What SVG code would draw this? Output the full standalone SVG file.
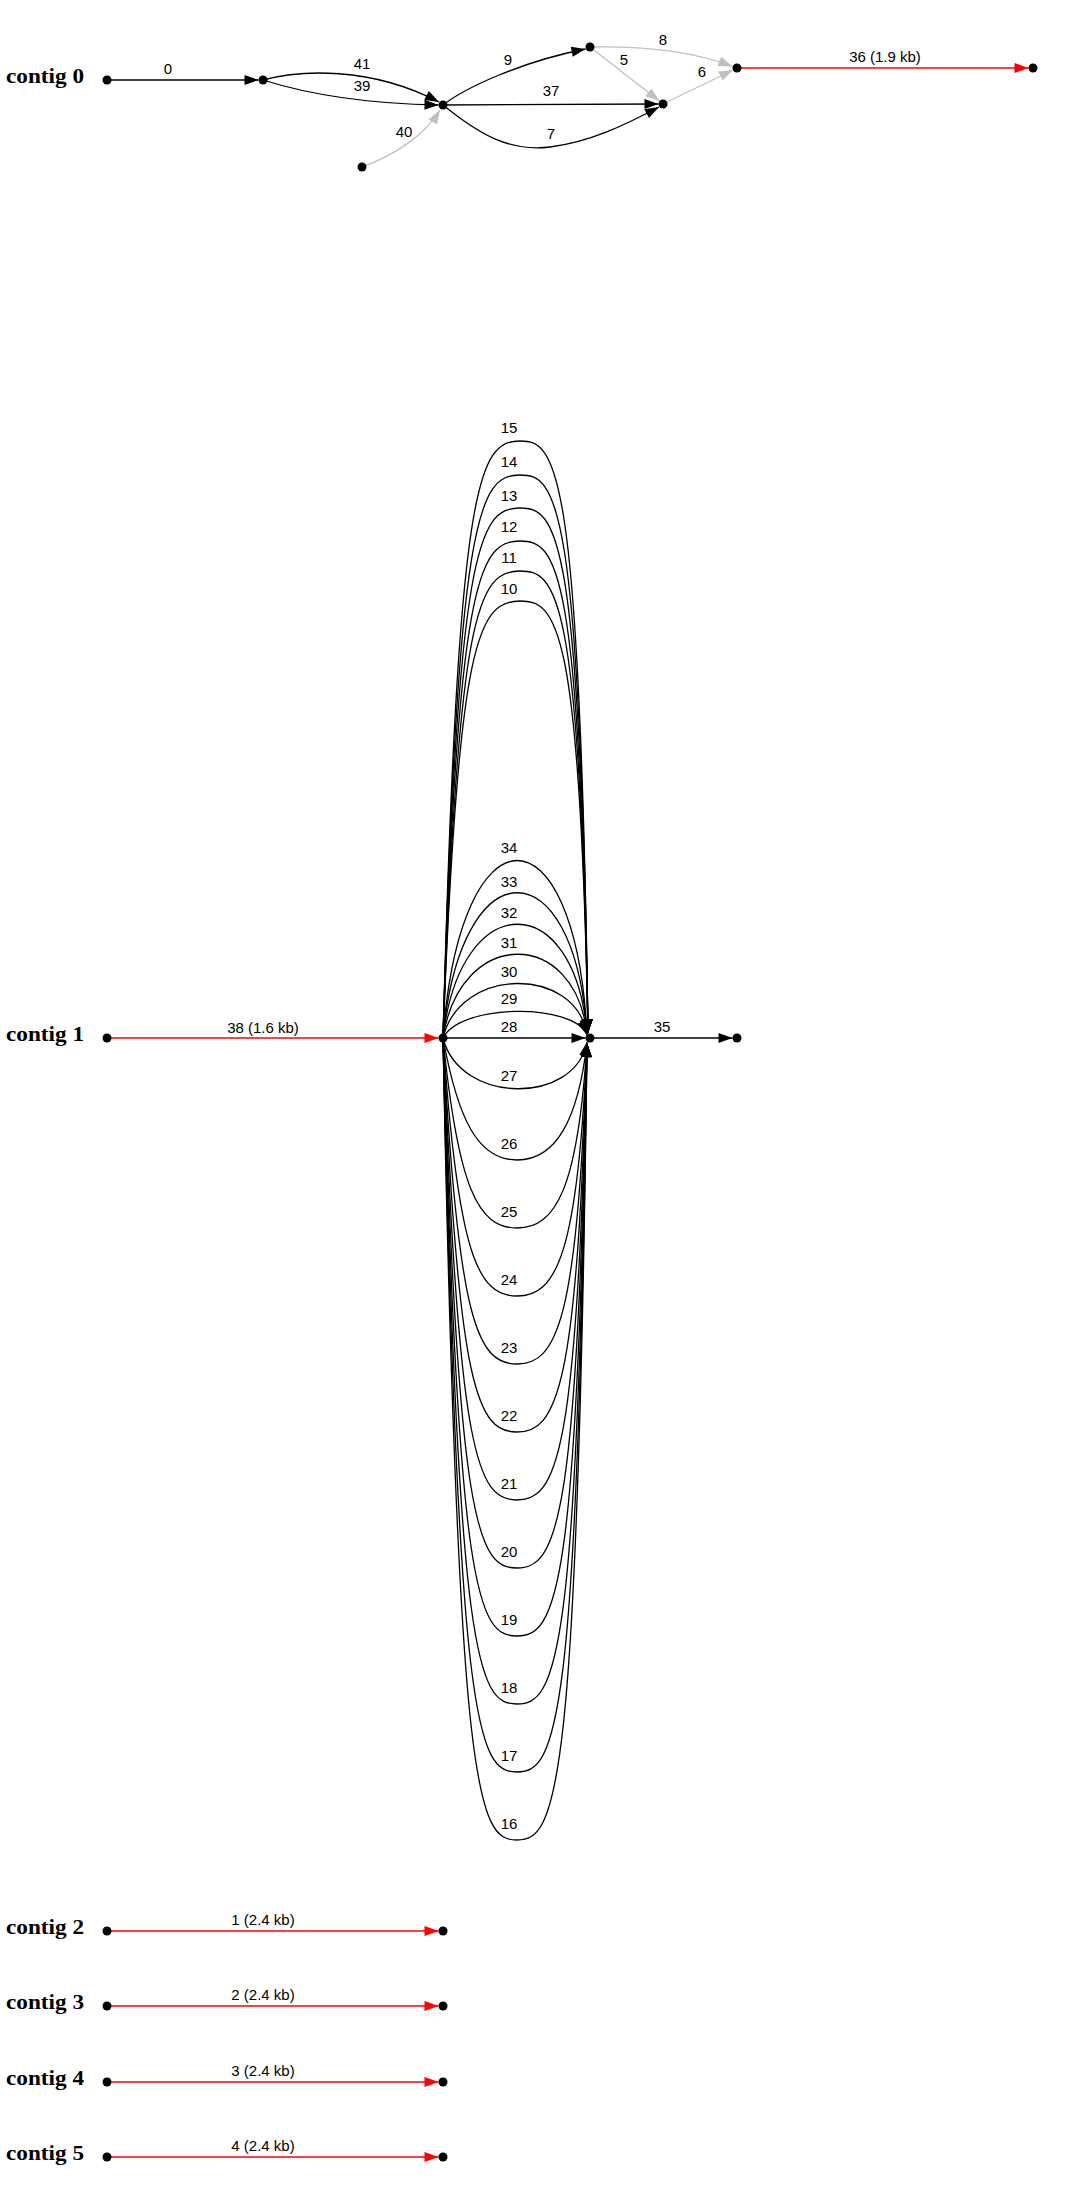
<svg xmlns="http://www.w3.org/2000/svg" width="1065" height="2209" viewBox="0 0 1065 2209">
<style>
.e{fill:none;stroke:#000;stroke-width:1.3}
.g{fill:none;stroke:#c0c0c0;stroke-width:1.3}
.r{fill:none;stroke:#ff0000;stroke-width:1.3}
.l{font-family:"Liberation Sans",Arial,sans-serif;font-size:15px;text-anchor:middle;fill:#000}
.c{font-family:"Liberation Serif","Times New Roman",serif;font-size:20.5px;font-weight:bold;fill:#000}
.n{fill:#000}
</style>
<defs>
<marker id="ab" markerUnits="userSpaceOnUse" viewBox="0 0 14 10" markerWidth="14" markerHeight="10" refX="14" refY="5" orient="auto" overflow="visible"><path d="M0,0 L14,5 L0,10 z" fill="#000"/></marker>
<marker id="ag" markerUnits="userSpaceOnUse" viewBox="0 0 14 10" markerWidth="14" markerHeight="10" refX="14" refY="5" orient="auto" overflow="visible"><path d="M0,0 L14,5 L0,10 z" fill="#c0c0c0"/></marker>
<marker id="ar" markerUnits="userSpaceOnUse" viewBox="0 0 14 10" markerWidth="14" markerHeight="10" refX="14" refY="5" orient="auto" overflow="visible"><path d="M0,0 L14,5 L0,10 z" fill="#ff0000"/></marker>
</defs>
<rect width="1065" height="2209" fill="#fff"/>
<g id="labels">
<text class="c" x="6" y="83" textLength="78" lengthAdjust="spacingAndGlyphs">contig 0</text>
<text class="c" x="6" y="1041" textLength="78" lengthAdjust="spacingAndGlyphs">contig 1</text>
<text class="c" x="6" y="1934" textLength="78" lengthAdjust="spacingAndGlyphs">contig 2</text>
<text class="c" x="6" y="2009" textLength="78" lengthAdjust="spacingAndGlyphs">contig 3</text>
<text class="c" x="6" y="2085" textLength="78" lengthAdjust="spacingAndGlyphs">contig 4</text>
<text class="c" x="6" y="2160" textLength="78" lengthAdjust="spacingAndGlyphs">contig 5</text>
</g>
<g id="connectors">
<!-- contig 0 -->
<g id="e0"><path class="e" marker-end="url(#ab)" d="M107,80 L258.5,80"/><text class="l" x="168" y="74">0</text></g>
<g id="e41"><path class="e" marker-end="url(#ab)" d="M263,80 C300,70 370,66 439,102"/><text class="l" x="362" y="69">41</text></g>
<g id="e39"><path class="e" marker-end="url(#ab)" d="M263,80 C320,98 380,104 438.5,105"/><text class="l" x="362" y="91">39</text></g>
<g id="e40"><path class="g" marker-end="url(#ag)" d="M362,167 C395,155 425,135 440,110"/><text class="l" x="404" y="137">40</text></g>
<g id="e9"><path class="e" marker-end="url(#ab)" d="M443,105 C465,88 520,62 585.5,49"/><text class="l" x="508" y="65">9</text></g>
<g id="e37"><path class="e" marker-end="url(#ab)" d="M443,105 L658.5,104"/><text class="l" x="551" y="96">37</text></g>
<g id="e7"><path class="e" marker-end="url(#ab)" d="M443,105 C480,135 510,152 550,147 C590,142 625,125 659,107"/><text class="l" x="551" y="139">7</text></g>
<g id="e8"><path class="g" marker-end="url(#ag)" d="M590,47 C640,46 690,50 732.5,66.5"/><text class="l" x="663" y="45">8</text></g>
<g id="e5"><path class="g" marker-end="url(#ag)" d="M590,47 L659.5,101"/><text class="l" x="624" y="65">5</text></g>
<g id="e6"><path class="g" marker-end="url(#ag)" d="M663,104 L733,70"/><text class="l" x="702" y="77">6</text></g>
<g id="e36"><path class="r" marker-end="url(#ar)" d="M737,68 L1028.5,68"/><text class="l" x="885" y="62">36 (1.9 kb)</text></g>
<!-- contig 1 -->
<g id="e38"><path class="r" marker-end="url(#ar)" d="M107,1038 L438.5,1038"/><text class="l" x="263" y="1033">38 (1.6 kb)</text></g>
<g id="e35"><path class="e" marker-end="url(#ab)" d="M590,1038 L732.5,1038"/><text class="l" x="662" y="1032">35</text></g>
<g id="e28"><path class="e" marker-end="url(#ab)" d="M443,1038 L585.5,1038"/><text class="l" x="509" y="1032">28</text></g>
<g id="e15"><path class="e" marker-end="url(#ab)" d="M443,1038 C458,481 478,441 520,441 C556,441 580,461 588,1033"/><text class="l" x="509" y="433">15</text></g>
<g id="e14"><path class="e" marker-end="url(#ab)" d="M443,1038 C458,515 478,475 520,475 C556,475 580,495 588,1033"/><text class="l" x="509" y="467">14</text></g>
<g id="e13"><path class="e" marker-end="url(#ab)" d="M443,1038 C458,548 478,508 520,508 C556,508 580,528 588,1033"/><text class="l" x="509" y="501">13</text></g>
<g id="e12"><path class="e" marker-end="url(#ab)" d="M443,1038 C458,581 478,541 520,541 C556,541 580,561 588,1033"/><text class="l" x="509" y="532">12</text></g>
<g id="e11"><path class="e" marker-end="url(#ab)" d="M443,1038 C458,611 478,571 520,571 C556,571 580,591 588,1033"/><text class="l" x="509" y="563">11</text></g>
<g id="e10"><path class="e" marker-end="url(#ab)" d="M443,1038 C458,641 478,601 520,601 C556,601 580,621 588,1033"/><text class="l" x="509" y="594">10</text></g>
<g id="e34"><path class="e" marker-end="url(#ab)" d="M443,1038 C460,802 575,802 587,1034"/><text class="l" x="509" y="853">34</text></g>
<g id="e33"><path class="e" marker-end="url(#ab)" d="M443,1038 C460,845 575,845 587,1034"/><text class="l" x="509" y="887">33</text></g>
<g id="e32"><path class="e" marker-end="url(#ab)" d="M443,1038 C460,887 575,887 587,1034"/><text class="l" x="509" y="918">32</text></g>
<g id="e31"><path class="e" marker-end="url(#ab)" d="M443,1038 C460,927 575,927 587,1034"/><text class="l" x="509" y="948">31</text></g>
<g id="e30"><path class="e" marker-end="url(#ab)" d="M443,1038 C460,966 575,966 587,1034"/><text class="l" x="509" y="977">30</text></g>
<g id="e29"><path class="e" marker-end="url(#ab)" d="M443,1038 C460,1003 575,1003 587,1035"/><text class="l" x="509" y="1004">29</text></g>
<g id="e27"><path class="e" marker-end="url(#ab)" d="M443,1038 C460,1105 575,1105 587,1042"/><text class="l" x="509" y="1081">27</text></g>
<g id="e26"><path class="e" marker-end="url(#ab)" d="M443,1038 C458,1120 478,1160 517,1160 C556,1160 578,1120 587,1043"/><text class="l" x="509" y="1149">26</text></g>
<g id="e25"><path class="e" marker-end="url(#ab)" d="M443,1038 C458,1188 478,1228 517,1228 C556,1228 578,1188 587,1043"/><text class="l" x="509" y="1217">25</text></g>
<g id="e24"><path class="e" marker-end="url(#ab)" d="M443,1038 C458,1256 478,1296 517,1296 C556,1296 578,1256 587,1043"/><text class="l" x="509" y="1285">24</text></g>
<g id="e23"><path class="e" marker-end="url(#ab)" d="M443,1038 C458,1324 478,1364 517,1364 C556,1364 578,1324 587,1043"/><text class="l" x="509" y="1353">23</text></g>
<g id="e22"><path class="e" marker-end="url(#ab)" d="M443,1038 C458,1392 478,1432 517,1432 C556,1432 578,1392 587,1043"/><text class="l" x="509" y="1421">22</text></g>
<g id="e21"><path class="e" marker-end="url(#ab)" d="M443,1038 C458,1460 478,1500 517,1500 C556,1500 578,1460 587,1043"/><text class="l" x="509" y="1489">21</text></g>
<g id="e20"><path class="e" marker-end="url(#ab)" d="M443,1038 C458,1528 478,1568 517,1568 C556,1568 578,1528 587,1043"/><text class="l" x="509" y="1557">20</text></g>
<g id="e19"><path class="e" marker-end="url(#ab)" d="M443,1038 C458,1596 478,1636 517,1636 C556,1636 578,1596 587,1043"/><text class="l" x="509" y="1625">19</text></g>
<g id="e18"><path class="e" marker-end="url(#ab)" d="M443,1038 C458,1664 478,1704 517,1704 C556,1704 578,1664 587,1043"/><text class="l" x="509" y="1693">18</text></g>
<g id="e17"><path class="e" marker-end="url(#ab)" d="M443,1038 C458,1732 478,1772 517,1772 C556,1772 578,1732 587,1043"/><text class="l" x="509" y="1761">17</text></g>
<g id="e16"><path class="e" marker-end="url(#ab)" d="M443,1038 C458,1800 478,1840 517,1840 C556,1840 578,1800 587,1043"/><text class="l" x="509" y="1829">16</text></g>
<!-- contigs 2-5 -->
<g id="e1"><path class="r" marker-end="url(#ar)" d="M107,1931 L438.5,1931"/><text class="l" x="263" y="1925">1 (2.4 kb)</text></g>
<g id="e2"><path class="r" marker-end="url(#ar)" d="M107,2006 L438.5,2006"/><text class="l" x="263" y="2000">2 (2.4 kb)</text></g>
<g id="e3"><path class="r" marker-end="url(#ar)" d="M107,2082 L438.5,2082"/><text class="l" x="263" y="2076">3 (2.4 kb)</text></g>
<g id="e4"><path class="r" marker-end="url(#ar)" d="M107,2157 L438.5,2157"/><text class="l" x="263" y="2151">4 (2.4 kb)</text></g>
</g>
<g id="nodes">
<g id="n0a"><circle class="n" cx="107" cy="80" r="4.5"/></g>
<g id="n0b"><circle class="n" cx="263" cy="80" r="4.5"/></g>
<g id="n0c"><circle class="n" cx="443" cy="105" r="4.5"/></g>
<g id="n0d"><circle class="n" cx="590" cy="47" r="4.5"/></g>
<g id="n0e"><circle class="n" cx="663" cy="104" r="4.5"/></g>
<g id="n0f"><circle class="n" cx="737" cy="68" r="4.5"/></g>
<g id="n0g"><circle class="n" cx="1033" cy="68" r="4.5"/></g>
<g id="n0h"><circle class="n" cx="362" cy="167" r="4.5"/></g>
<g id="n1a"><circle class="n" cx="107" cy="1038" r="4.5"/></g>
<g id="n1b"><circle class="n" cx="443" cy="1038" r="4.5"/></g>
<g id="n1c"><circle class="n" cx="590" cy="1038" r="4.5"/></g>
<g id="n1d"><circle class="n" cx="737" cy="1038" r="4.5"/></g>
<g id="n2a"><circle class="n" cx="107" cy="1931" r="4.5"/></g>
<g id="n2b"><circle class="n" cx="443" cy="1931" r="4.5"/></g>
<g id="n3a"><circle class="n" cx="107" cy="2006" r="4.5"/></g>
<g id="n3b"><circle class="n" cx="443" cy="2006" r="4.5"/></g>
<g id="n4a"><circle class="n" cx="107" cy="2082" r="4.5"/></g>
<g id="n4b"><circle class="n" cx="443" cy="2082" r="4.5"/></g>
<g id="n5a"><circle class="n" cx="107" cy="2157" r="4.5"/></g>
<g id="n5b"><circle class="n" cx="443" cy="2157" r="4.5"/></g>
</g>
</svg>
